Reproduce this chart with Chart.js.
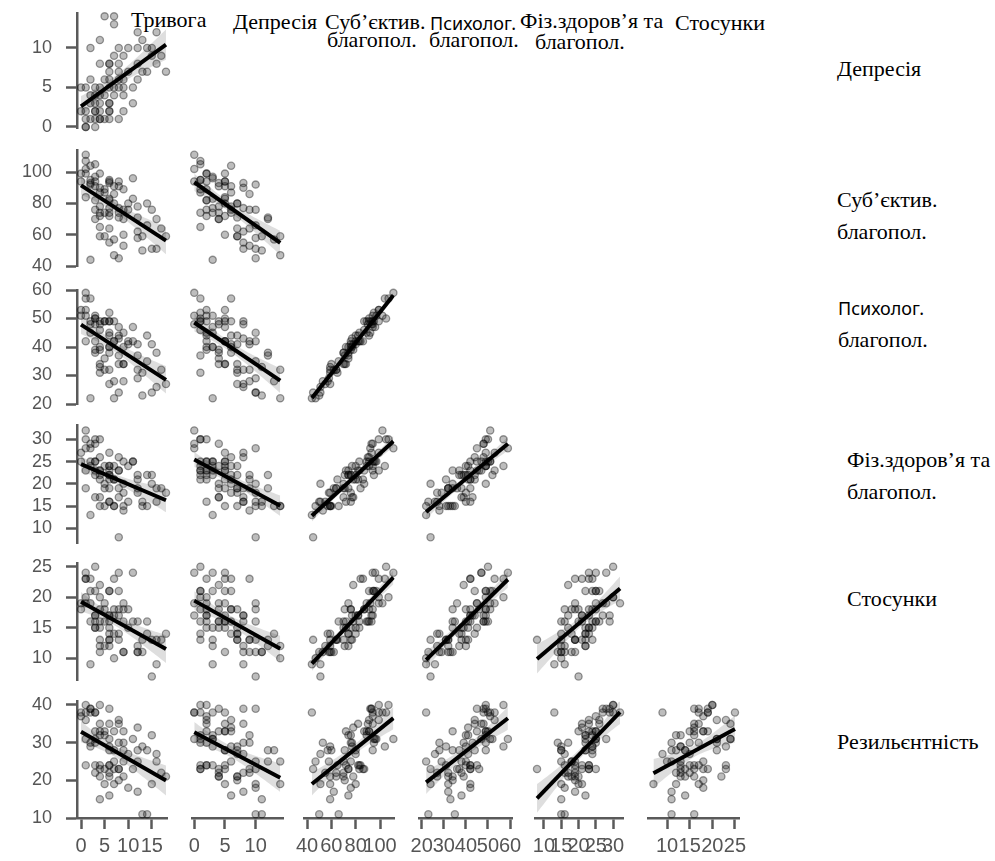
<!DOCTYPE html>
<html lang="uk">
<head>
<meta charset="utf-8">
<title>Кореляційна матриця</title>
<script src="https://cdn.jsdelivr.net/npm/chart.js@4.4.0/dist/chart.umd.min.js"></script>
<style>
  body { margin: 0; background: #fff; }
  #plot { position: relative; width: 995px; height: 861px; overflow: hidden; }
  #plot canvas { position: absolute; }
  .lbl { position: absolute; font-family: "Liberation Serif", "Times New Roman", "DejaVu Serif", serif; font-size: 22px; line-height: 22px; color: #000; white-space: nowrap; }
  .sans { font-family: "Noto Sans", Calibri, sans-serif; font-size: 18px; line-height: 18px; }
</style>
</head>
<body>
<div id="plot">
  <!-- column titles -->
  <div class="lbl" style="left:131px;top:9px">Тривога</div>
  <div class="lbl" style="left:233px;top:11px">Депресія</div>
  <div class="lbl" style="left:325px;top:11px">Суб’єктив.</div>
  <div class="lbl" style="left:327px;top:29px">благопол.</div>
  <div class="lbl sans" style="left:430px;top:14px">Психолог.</div>
  <div class="lbl" style="left:429px;top:29px">благопол.</div>
  <div class="lbl" style="left:520px;top:10px">Фіз.здоров’я та</div>
  <div class="lbl" style="left:535px;top:31px">благопол.</div>
  <div class="lbl" style="left:675px;top:12px">Стосунки</div>
  <!-- row titles -->
  <div class="lbl" style="left:837px;top:58px">Депресія</div>
  <div class="lbl" style="left:837px;top:189px">Суб’єктив.</div>
  <div class="lbl" style="left:837px;top:221px">благопол.</div>
  <div class="lbl sans" style="left:838px;top:299px">Психолог.</div>
  <div class="lbl" style="left:838px;top:329px">благопол.</div>
  <div class="lbl" style="left:847px;top:449px">Фіз.здоров’я та</div>
  <div class="lbl" style="left:847px;top:481px">благопол.</div>
  <div class="lbl" style="left:847px;top:588px">Стосунки</div>
  <div class="lbl" style="left:837px;top:731px">Резильєнтність</div>
</div>
<script>
// scores per respondent, same order in every array
const anxiety     = [0,1,3,4,6,7,8,9,11,1, 2,3,4,6,4,1,3,1,3,4, 6,9,2,3,6,11,2,4,7,9, 5,6,8,9,5,6,6,8,10,13, 18,4,5,6,6,8,12,4,7,9, 2,3,6,8,10,12,14,3,4,13, 12,7,5,7,15,16,17,14,15,12, 0,2,1,8,16];
const depression  = [5,5,5,5,5,5,5,5,5,1, 1,1,1,1,1,0,0,2,2,2, 2,2,3,3,3,3,4,4,4,4, 6,6,6,6,1,7,2,7,7,7, 7,8,4,8,8,8,8,3,9,9, 10,4,3,10,10,10,10,2,11,11, 12,13,14,14,9,8,9,7,10,6, 2,6,0,1,12];
const subjective  = [99,84,91,72,94,80,94,60,83,107, 95,105,87,95,65,111,94,99,82,99, 72,89,44,97,83,96,93,78,91,70, 87,74,91,76,89,64,82,71,80,59, 59,90,74,93,55,77,62,74,86,53, 92,70,77,45,76,58,66,76,59,50, 71,57,59,47,76,51,64,80,51,78, 94,104,102,74,70];
const psych       = [53,42,50,34,49,42,47,34,42,57, 49,50,46,52,31,59,48,53,42,49, 40,45,22,51,45,47,48,39,49,34, 49,38,44,40,49,32,44,34,41,31, 27,48,36,49,27,43,32,40,42,28, 45,38,40,24,42,29,35,39,33,23, 37,28,32,22,41,26,32,44,24,41, 51,57,51,37,38];
const physical    = [27,19,25,23,24,21,23,15,25,30, 25,30,23,22,21,28,29,23,23,30, 16,25,13,25,23,25,29,17,24,20, 20,22,26,18,24,19,21,19,24,15, 18,26,19,27,16,17,19,22,21,14, 28,17,24,8,16,18,15,22,15,16, 22,15,15,15,22,16,19,22,20,21, 25,24,32,23,19];
const relations   = [19,23,16,15,21,17,24,11,16,20, 21,25,18,21,13,24,17,23,17,20, 16,19,9,21,15,24,16,22,18,16, 18,14,21,18,16,13,17,18,15,13, 14,16,19,17,12,17,11,12,23,11, 19,15,13,13,18,11,16,15,11,11, 12,14,12,10,13,9,13,14,7,16, 18,23,19,14,13];
const resilience  = [38,24,33,33,28,19,35,28,23,40, 30,38,23,31,24,31,38,36,24,40, 24,33,38,31,24,31,39,21,33,21, 33,16,36,25,32,21,35,20,27,29, 21,35,23,39,22,30,17,32,23,30, 39,22,29,23,18,25,11,30,15,11, 28,28,19,25,32,27,22,28,19,34, 37,29,38,23,25];

// tick values for each variable
const ticksAnx   = [0, 5, 10, 15];
const ticksDep   = [0, 5, 10];
const ticksSubj  = [40, 60, 80, 100];
const ticksPsych = [20, 30, 40, 50, 60];
const ticksPhys  = [10, 15, 20, 25, 30];
const ticksRel   = [10, 15, 20, 25];
const ticksRes   = [10, 20, 30, 40];

const variables = [anxiety, depression, subjective, psych, physical, relations, resilience];
const varTicks  = [ticksAnx, ticksDep, ticksSubj, ticksPsych, ticksPhys, ticksRel, ticksRes];

// panel grid: columns use variables 0..5, rows use variables 1..6
const colLeft  = [77, 191.8, 304.6, 419.5, 535.3, 648];
const colWidth = [90.4, 91.5, 90, 92.8, 88.2, 91.5];
const colMin   = [-0.85, -0.4, 38, 19, 7.5, 5.8];
const colMax   = [18.3, 14.5, 112, 61, 33, 26];
const rowTop    = [13.2, 150.1, 290, 425.1, 563.6, 701.6];
const rowHeight = [115.3, 116, 114, 118.4, 117.1, 116.4];
const rowMin    = [-0.2, 40, 20, 6.6, 6.3, 10];
const rowMax    = [14.4, 114, 60, 33.2, 25.5, 40.9];

const PAD = 8, AXIS_H = 46;
const AXIS_COLOR = '#5a5a5a';
const T_CRIT = 1.993;

Chart.defaults.font.family = "'Liberation Sans', Arial, sans-serif";

function fit(xs, ys) {
  const n = xs.length;
  const mx = xs.reduce((a, v) => a + v, 0) / n;
  const my = ys.reduce((a, v) => a + v, 0) / n;
  let sxx = 0, sxy = 0;
  for (let i = 0; i < n; i++) {
    sxx += (xs[i] - mx) * (xs[i] - mx);
    sxy += (xs[i] - mx) * (ys[i] - my);
  }
  const b = sxy / sxx, a = my - b * mx;
  let sse = 0;
  for (let i = 0; i < n; i++) sse += Math.pow(ys[i] - a - b * xs[i], 2);
  return { a, b, n, mx, sxx, s: Math.sqrt(sse / (n - 2)) };
}

function axis(min, max, ticks, shown, size, horizontal) {
  return {
    type: 'linear',
    min: min,
    max: max,
    display: shown,
    afterBuildTicks: s => { s.ticks = ticks.map(v => ({ value: v })); },
    afterFit: s => {
      if (!shown) return;
      if (horizontal) s.height = size; else s.width = size;
      // keep the plot area fixed, labels may hang over the ends
      s.paddingLeft = s.paddingRight = s.paddingTop = s.paddingBottom = 0;
    },
    border: { display: true, color: AXIS_COLOR, width: 2.5 },
    grid: { drawOnChartArea: false, drawTicks: true, tickLength: 11, tickWidth: 2.5, tickColor: AXIS_COLOR },
    ticks: {
      autoSkip: false, maxRotation: 0, minRotation: 0,
      color: '#555',
      padding: horizontal ? 5 : 14,
      font: { size: horizontal ? 20 : 18 }
    }
  };
}

const plot = document.getElementById('plot');

function panel(r, c) {
  const xs = variables[c], ys = variables[r + 1];
  const x0 = colLeft[c], x1 = x0 + colWidth[c];
  const y0 = rowTop[r], y1 = y0 + rowHeight[r];
  const first = c === 0, last = r === 5;

  const left = first ? 0 : Math.floor(x0 - PAD);
  const top = Math.floor(y0 - PAD);
  const right = Math.ceil(x1 + PAD);
  const bottom = Math.ceil(y1 + (last ? AXIS_H : PAD));

  const cv = document.createElement('canvas');
  cv.width = right - left;
  cv.height = bottom - top;
  cv.style.left = left + 'px';
  cv.style.top = top + 'px';
  plot.appendChild(cv);

  // regression line and 95% band over the observed x range
  const f = fit(xs, ys);
  const lo = Math.min(...xs), hi = Math.max(...xs);
  const upper = [], lower = [];
  for (let k = 0; k <= 40; k++) {
    const x = lo + (hi - lo) * k / 40;
    const yh = f.a + f.b * x;
    const half = T_CRIT * f.s * Math.sqrt(1 / f.n + (x - f.mx) * (x - f.mx) / f.sxx);
    upper.push({ x: x, y: yh + half });
    lower.push({ x: x, y: yh - half });
  }

  new Chart(cv, {
    type: 'scatter',
    data: {
      datasets: [
        {
          type: 'line', data: [{ x: lo, y: f.a + f.b * lo }, { x: hi, y: f.a + f.b * hi }],
          borderColor: '#000', borderWidth: 4, pointRadius: 0, borderCapStyle: 'butt', order: 1
        },
        {
          type: 'line', data: upper, borderWidth: 0, pointRadius: 0, fill: false, order: 2
        },
        {
          type: 'line', data: lower, borderWidth: 0, pointRadius: 0,
          fill: '-1', backgroundColor: 'rgba(0,0,0,0.13)', order: 2
        },
        {
          data: xs.map((x, i) => ({ x: x, y: ys[i] })),
          pointRadius: 3.6, pointBorderWidth: 1.3,
          pointBackgroundColor: 'rgba(0,0,0,0.26)',
          pointBorderColor: 'rgba(0,0,0,0.38)',
          clip: false, order: 3
        }
      ]
    },
    options: {
      responsive: false,
      animation: false,
      devicePixelRatio: 1,
      layout: {
        autoPadding: false,
        padding: {
          left: first ? 0 : x0 - left,
          top: y0 - top,
          right: right - x1,
          bottom: last ? 0 : bottom - y1
        }
      },
      plugins: { legend: { display: false }, tooltip: { enabled: false } },
      scales: {
        x: axis(colMin[c], colMax[c], varTicks[c], last, bottom - y1, true),
        y: axis(rowMin[r], rowMax[r], varTicks[r + 1], first, x0 - left, false)
      }
    }
  });
}

for (let r = 0; r < 6; r++) {
  for (let c = 0; c <= r; c++) panel(r, c);
}
</script>
</body>
</html>
